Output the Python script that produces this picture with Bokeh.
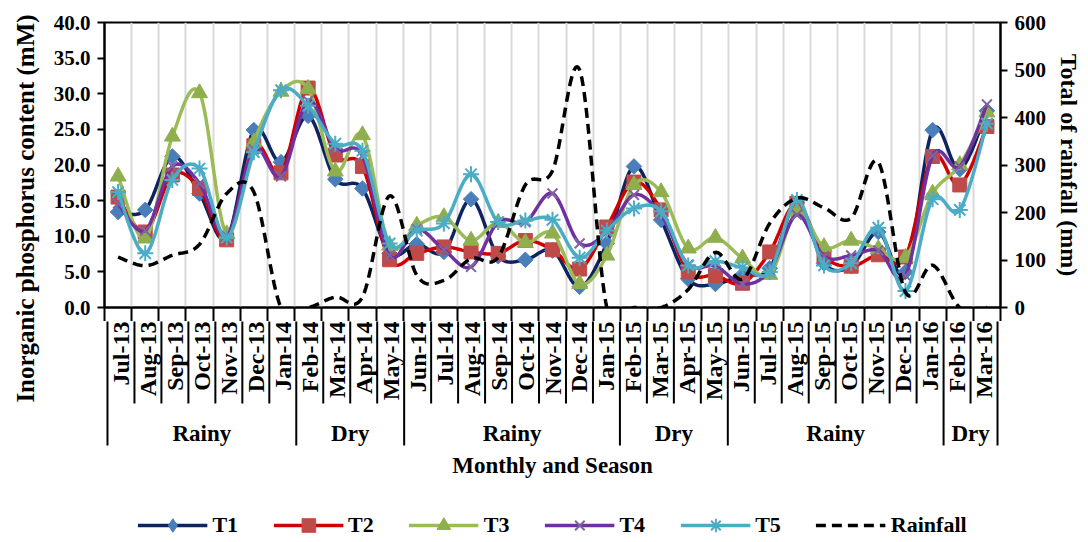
import numpy as np
from bokeh.plotting import figure
from bokeh.models import (Range1d, LinearAxis, FixedTicker, NumeralTickFormatter,
                          Grid, Legend, LegendItem)
from bokeh.layouts import row, column
from bokeh.embed import file_html
from bokeh.resources import INLINE
from bokeh.core.properties import value

# ---- data -------------------------------------------------------------
months = ["Jul-13", "Aug-13", "Sep-13", "Oct-13", "Nov-13", "Dec-13", "Jan-14",
          "Feb-14", "Mar-14", "Apr-14", "May-14", "Jun-14", "Jul-14", "Aug-14",
          "Sep-14", "Oct-14", "Nov-14", "Dec-14", "Jan-15", "Feb-15", "Mar-15",
          "Apr-15", "May-15", "Jun-15", "Jul-15", "Aug-15", "Sep-15", "Oct-15",
          "Nov-15", "Dec-15", "Jan-16", "Feb-16", "Mar-16"]

t1 = [13.4, 13.7, 21.2, 16.0, 9.7, 24.9, 20.4, 26.9, 18.0, 16.7, 7.6, 8.9, 7.8,
      15.2, 7.2, 6.7, 8.0, 2.9, 9.0, 19.8, 12.3, 4.0, 3.3, 4.6, 5.5, 14.7, 6.2,
      5.8, 10.6, 5.0, 24.9, 19.4, 27.6]
t2 = [15.5, 10.6, 18.6, 16.7, 9.5, 22.7, 18.9, 30.8, 21.4, 19.8, 6.7, 7.6, 8.5,
      7.8, 7.6, 9.4, 8.1, 5.4, 11.3, 17.6, 13.7, 5.0, 4.5, 3.4, 7.8, 14.6, 7.3,
      5.8, 7.4, 7.1, 21.2, 17.2, 25.4]
t3 = [18.4, 9.7, 24.0, 30.1, 10.3, 23.2, 30.3, 30.7, 19.1, 24.2, 8.7, 11.5, 12.7,
      9.4, 11.9, 9.1, 10.4, 3.3, 7.3, 17.2, 16.2, 8.3, 9.8, 6.9, 4.6, 13.4, 8.5,
      9.4, 8.2, 7.0, 16.0, 20.0, 27.4]
t4 = [14.6, 10.8, 19.8, 17.4, 10.0, 22.2, 18.4, 29.0, 22.3, 21.3, 7.3, 11.0, 8.1,
      5.7, 12.0, 12.0, 16.0, 9.0, 10.6, 15.8, 13.0, 6.0, 5.8, 3.3, 5.2, 13.0, 7.2,
      7.3, 8.0, 4.5, 21.3, 19.8, 28.5]
t5 = [16.2, 7.6, 17.9, 19.5, 9.8, 21.8, 30.5, 28.3, 23.0, 22.0, 9.0, 10.8, 11.8,
      18.7, 12.0, 12.2, 12.3, 7.0, 10.8, 13.9, 13.5, 5.9, 6.5, 5.6, 5.0, 15.1, 5.9,
      6.2, 11.2, 2.3, 15.2, 13.7, 25.8]
rainfall = [106, 88, 110, 133, 240, 243, 0, 0, 22, 22, 235, 68, 57, 103, 106, 258,
            288, 500, 0, 0, 0, 38, 116, 60, 177, 230, 210, 188, 306, 32, 89, 0, 0]

seasons = ["Rainy", "Dry", "Rainy", "Dry", "Rainy", "Dry"]
season_lengths = [7, 4, 8, 4, 8, 2]

p_ticks = [0, 5, 10, 15, 20, 25, 30, 35, 40]
rain_ticks = [0, 100, 200, 300, 400, 500, 600]

FONT = "Liberation Serif"
N = len(months)
xc = np.arange(N) + 0.5


def smooth(xs, ys, steps=24):
    """Smoothed polyline: cubic Bezier segments with Catmull-Rom control points."""
    pts = np.column_stack([np.asarray(xs, float), np.asarray(ys, float)])
    n = len(pts)
    t = np.linspace(0.0, 1.0, steps + 1)[1:, None]
    out = [pts[:1]]
    for i in range(n - 1):
        p0, p3 = pts[i], pts[i + 1]
        c1 = p0 + (p3 - pts[max(i - 1, 0)]) / 6.0
        c2 = p3 - (pts[min(i + 2, n - 1)] - p0) / 6.0
        seg = ((1 - t) ** 3) * p0 + 3 * ((1 - t) ** 2) * t * c1 \
            + 3 * (1 - t) * (t ** 2) * c2 + (t ** 3) * p3
        out.append(seg)
    arr = np.vstack(out)
    return arr[:, 0], arr[:, 1]


# (name, values, line colour, marker style in the plot, marker style in the legend)
series = [
    ("T1", t1, "#0E2461",
     dict(marker="square", angle=np.pi / 4, size=11, fill_color="#4A7EBB",
          line_color="#4A7EBB"),
     dict(marker="diamond", fill_color="#4A7EBB", line_color="#4A7EBB")),
    ("T2", t2, "#D00000",
     dict(marker="square", size=14, fill_color="#BE4B48", line_color="#BE4B48"),
     dict(marker="square", fill_color="#BE4B48", line_color="#BE4B48")),
    ("T3", t3, "#9BBB59",
     dict(marker="triangle", size=16, fill_color="#8FAF4E", line_color="#8FAF4E"),
     dict(marker="triangle", fill_color="#8FAF4E", line_color="#8FAF4E")),
    ("T4", t4, "#7030A0",
     dict(marker="x", size=14, fill_color=None, line_color="#8064A2", line_width=2),
     dict(marker="x", fill_color=None, line_color="#8064A2", line_width=2)),
    ("T5", t5, "#4BACC6",
     dict(marker="asterisk", size=16, fill_color=None, line_color="#4BACC6",
          line_width=2),
     dict(marker="asterisk", fill_color=None, line_color="#4BACC6", line_width=2)),
]

# ---- main plot ----------------------------------------------------------
TICK_DROP = 14
xr = Range1d(0, N)
p = figure(width=1048, height=22 + 285 + TICK_DROP, x_range=xr,
           y_range=Range1d(0, 40),
           min_border_left=64, min_border_right=88, min_border_top=22,
           min_border_bottom=TICK_DROP, x_axis_location="below",
           y_axis_location="left", toolbar_location=None, output_backend="svg",
           outline_line_color="black", outline_line_width=2)
p.grid.visible = False
p.add_layout(Grid(dimension=0, ticker=FixedTicker(ticks=list(range(1, N))),
                  grid_line_color="#D9D9D9", grid_line_width=2))

p.extra_y_ranges = {"rain": Range1d(0, 600)}


def style_axis(ax):
    ax.axis_line_width = 2
    ax.axis_line_color = "black"
    ax.major_tick_line_width = 2
    ax.major_tick_line_color = "black"
    ax.major_tick_out = 7
    ax.major_tick_in = 0
    ax.minor_tick_out = 0
    ax.minor_tick_in = 0
    ax.major_label_standoff = 7
    ax.major_label_text_font = FONT
    ax.major_label_text_font_style = "bold"
    ax.major_label_text_font_size = "21px"
    ax.major_label_text_color = "black"


# bottom axis: only the boundary tick marks (the month names sit below)
xa = p.xaxis[0]
style_axis(xa)
xa.ticker = FixedTicker(ticks=list(range(0, N + 1)))
xa.major_tick_out = TICK_DROP
xa.major_label_text_font_size = "0px"
xa.major_label_text_color = None
xa.major_label_standoff = 0

yl = p.yaxis[0]
yl.ticker = FixedTicker(ticks=p_ticks)
yl.formatter = NumeralTickFormatter(format="0.0")
style_axis(yl)

yr = LinearAxis(y_range_name="rain", ticker=FixedTicker(ticks=rain_ticks),
                axis_label="Total of rainfall (mm)")
style_axis(yr)
yr.axis_label_text_font = FONT
yr.axis_label_text_font_style = "bold"
yr.axis_label_text_font_size = "24px"
yr.axis_label_text_color = "black"
yr.axis_label_standoff = 7
p.add_layout(yr, "right")

for name, vals, color, mk, _ in series:
    sx, sy = smooth(xc, vals)
    p.line(sx, sy, line_color=color, line_width=3.5)
    p.scatter(xc, vals, **mk)

rx, ry = smooth(xc, rainfall)
p.line(rx, ry, y_range_name="rain", line_color="black", line_width=3.5,
       line_dash="10 6")

# ---- category / season labels and legend ---------------------------------
# y here counts pixels downward from the bottom of the plot frame (negative)
pad = 3 / (896 / N)
p2 = figure(width=1048, height=542 - (22 + 285 + TICK_DROP),
            x_range=Range1d(-pad, N + pad),
            y_range=Range1d(-235, -TICK_DROP), min_border_left=61,
            min_border_right=85, min_border_top=0, min_border_bottom=0,
            x_axis_location=None, y_axis_location=None, toolbar_location=None,
            output_backend="svg", outline_line_color=None)
p2.grid.visible = False

bounds = np.concatenate([[0], np.cumsum(season_lengths)])
month_sep = [b for b in range(1, N) if b not in set(bounds.tolist())]
p2.segment(x0=month_sep, y0=0, x1=month_sep, y1=-96, line_color="black",
           line_width=2)
p2.segment(x0=bounds, y0=0, x1=bounds, y1=-138, line_color="black",
           line_width=2)

p2.text(x=xc, y=-14, text=months, angle=np.pi / 2, text_align="right",
        text_baseline="middle", text_font=value(FONT), text_font_style="bold",
        text_font_size="24px", text_color="black")

centers = bounds[:-1] + np.array(season_lengths) / 2
p2.text(x=centers, y=-126, text=seasons, text_align="center",
        text_baseline="middle", text_font=value(FONT), text_font_style="bold",
        text_font_size="23px", text_color="black")
p2.text(x=[N / 2], y=[-158], text=["Monthly and Season"], text_align="center",
        text_baseline="middle", text_font=value(FONT), text_font_style="bold",
        text_font_size="23px", text_color="black")

# legend proxies: the same series on this panel's scale fall outside its
# visible range, so only their legend icons show
items = []
for name, vals, color, _, lmk in series:
    rl = p2.line(xc, vals, line_color=color, line_width=3.5)
    rm = p2.scatter(xc, vals, **lmk)
    items.append(LegendItem(label=name, renderers=[rl, rm]))
rr = p2.line(xc, rainfall, line_color="black", line_width=3.5, line_dash="10 6")
items.append(LegendItem(label="Rainfall", renderers=[rr]))

legend = Legend(items=items, orientation="horizontal", location="bottom_center",
                glyph_width=70, glyph_height=34, label_standoff=5, spacing=35,
                padding=0, margin=0, border_line_color=None,
                background_fill_alpha=0, label_text_font=FONT,
                label_text_font_style="bold", label_text_font_size="22px",
                label_text_color="black")
p2.add_layout(legend)

# ---- left axis title -----------------------------------------------------
pc = figure(width=40, height=542, x_range=Range1d(0, 40), y_range=Range1d(0, 542),
            min_border=0, x_axis_location=None, y_axis_location=None,
            toolbar_location=None, output_backend="svg", outline_line_color=None)
pc.grid.visible = False
pc.text(x=[25], y=[334], text=["Inorganic phosphorus content (mM)"],
        angle=np.pi / 2, text_align="center", text_baseline="middle",
        text_font=value(FONT), text_font_style="bold", text_font_size="25px",
        text_color="black")

layout = row(pc, column(p, p2))
open("out.html", "w").write(file_html(layout, INLINE))
